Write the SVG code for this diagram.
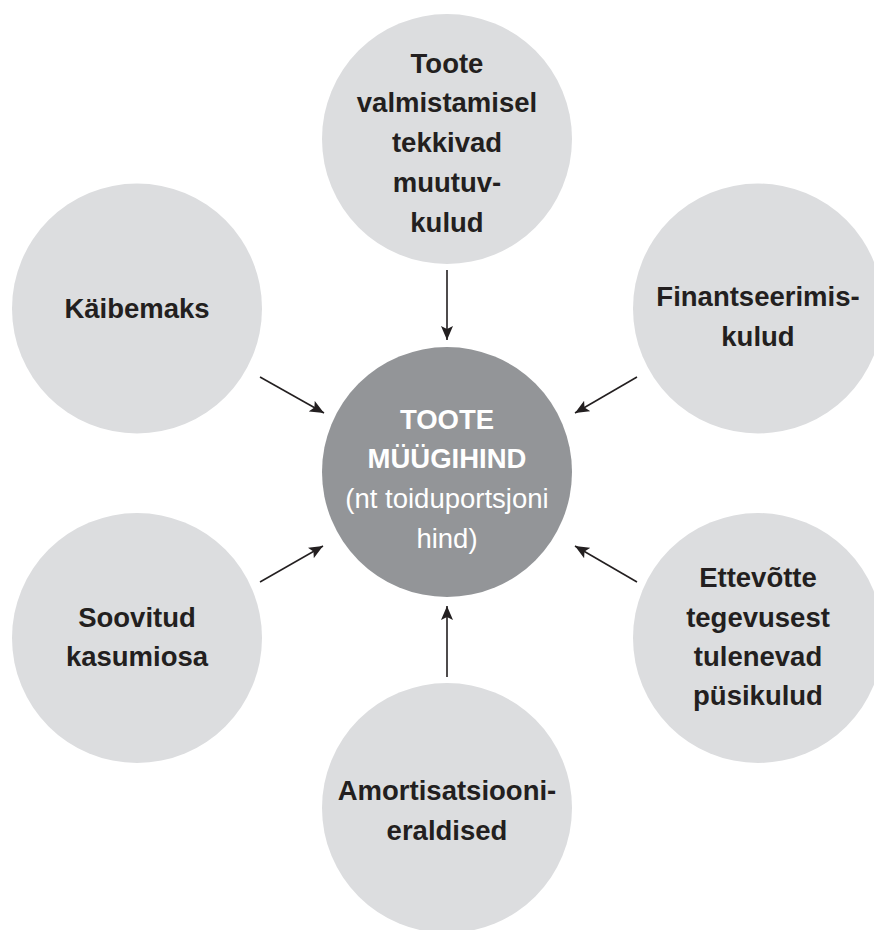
<svg xmlns="http://www.w3.org/2000/svg" width="874" height="930" viewBox="0 0 874 930">
<style>
.c{fill:#dcdddf}
.m{fill:#939598}
.t{font-family:"Liberation Sans",Arial,sans-serif;font-weight:bold;font-size:27.5px;fill:#231f20;text-anchor:middle}
.w{font-family:"Liberation Sans",Arial,sans-serif;font-size:27.5px;fill:#ffffff;text-anchor:middle}
.wb{font-weight:bold}
.a{stroke:#231f20;stroke-width:1.6;fill:none;marker-end:url(#ah)}
</style>
<defs>
<marker id="ah" markerUnits="userSpaceOnUse" markerWidth="14" markerHeight="12" refX="14" refY="6" orient="auto">
<path d="M0,0 L14,6 L0,12 L3,6 Z" fill="#231f20"/>
</marker>
</defs>
<rect width="874" height="930" fill="#ffffff"/>
<g id="node-top">
<circle class="c" cx="447" cy="139" r="125"/>
<text class="t" x="447" y="73">Toote</text>
<text class="t" x="447" y="112">valmistamisel</text>
<text class="t" x="447" y="152">tekkivad</text>
<text class="t" x="447" y="192">muutuv-</text>
<text class="t" x="447" y="232">kulud</text>
</g>
<g id="node-kaibemaks">
<circle class="c" cx="137" cy="308.5" r="125"/>
<text class="t" x="137" y="318">Käibemaks</text>
</g>
<g id="node-finants">
<circle class="c" cx="758" cy="308.5" r="125"/>
<text class="t" x="758" y="306">Finantseerimis-</text>
<text class="t" x="758" y="346">kulud</text>
</g>
<g id="node-center">
<circle class="m" cx="447" cy="472" r="125"/>
<text class="w wb" x="447" y="429">TOOTE</text>
<text class="w wb" x="447" y="468">MÜÜGIHIND</text>
<text class="w" x="447" y="508">(nt toiduportsjoni</text>
<text class="w" x="447" y="548">hind)</text>
</g>
<g id="node-soovitud">
<circle class="c" cx="137" cy="638" r="125"/>
<text class="t" x="137" y="627">Soovitud</text>
<text class="t" x="137" y="666">kasumiosa</text>
</g>
<g id="node-ettevotte">
<circle class="c" cx="758" cy="638" r="125"/>
<text class="t" x="758" y="587">Ettevõtte</text>
<text class="t" x="758" y="627">tegevusest</text>
<text class="t" x="758" y="666">tulenevad</text>
<text class="t" x="758" y="705">püsikulud</text>
</g>
<g id="node-bottom">
<circle class="c" cx="447" cy="808" r="125"/>
<text class="t" x="447" y="800">Amortisatsiooni-</text>
<text class="t" x="447" y="840">eraldised</text>
</g>
<g id="connectors">
<line class="a" x1="447" y1="270" x2="447" y2="340"/>
<line class="a" x1="260" y1="377" x2="324" y2="413"/>
<line class="a" x1="637" y1="377" x2="575" y2="413"/>
<line class="a" x1="260" y1="582" x2="323" y2="546"/>
<line class="a" x1="637" y1="582" x2="575" y2="546"/>
<line class="a" x1="447" y1="677" x2="447" y2="606"/>
</g>
</svg>
